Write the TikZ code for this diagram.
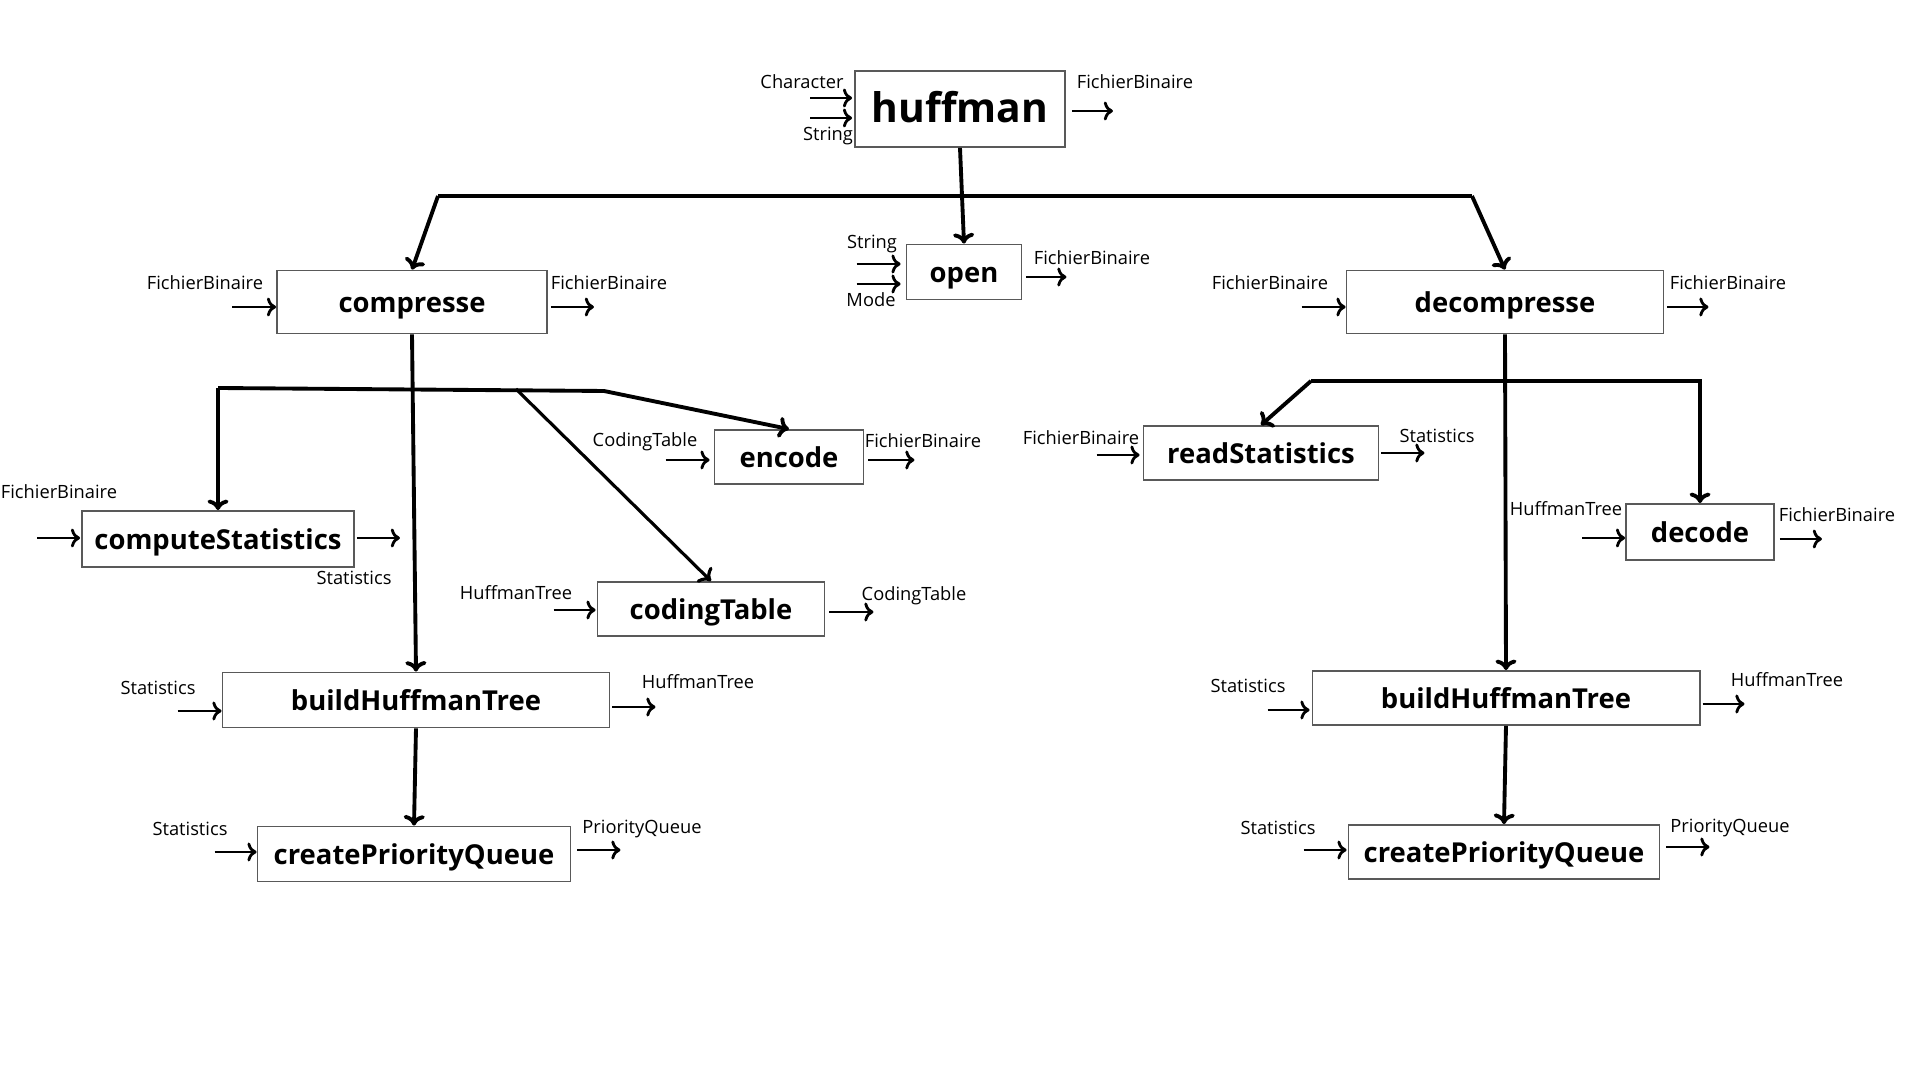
\documentclass[tikz,border=0pt]{standalone}
\usepackage{fontspec}
\setmainfont{Open Sans}
\usetikzlibrary{arrows.meta}
\tikzset{
  func/.style={draw=black!65, line width=0.5pt, inner sep=0pt, text height=0.62em, text depth=0pt, font=\fontsize{7.8}{9}\selectfont\bfseries},
  lbl/.style={inner sep=0pt, font=\fontsize{5.2}{6}\selectfont},
  flow/.style={draw, line width=1.1pt, ->, >={To[length=3pt,width=6pt]}},
  io/.style={draw, line width=0.8pt, ->, >={To[length=2.6pt,width=5.4pt]}}
}
\begin{document}
\begin{tikzpicture}[x=0.01cm,y=-0.01cm]
\useasboundingbox (0,0) rectangle (1920,1080);
\fill[white] (0,0) rectangle (1920,1080);

\node[func,minimum width=2.10cm,minimum height=0.76cm,text height=0.76em,font=\fontsize{11.6}{13}\selectfont\bfseries] (huf) at (960,109) {huffman};
\node[func,minimum width=1.15cm,minimum height=0.55cm] (open) at (964,272) {open};
\node[func,minimum width=2.70cm,minimum height=0.63cm] (comp) at (412,302) {compresse};
\node[func,minimum width=3.17cm,minimum height=0.63cm] (dec) at (1505,302) {decompresse};
\node[func,minimum width=1.49cm,minimum height=0.54cm] (enc) at (789,457) {encode};
\node[func,minimum width=2.72cm,minimum height=0.56cm] (stat) at (218,539) {computeStatistics};
\node[func,minimum width=2.27cm,minimum height=0.54cm] (ctab) at (711,609) {codingTable};
\node[func,minimum width=3.87cm,minimum height=0.55cm] (bht1) at (416,700) {buildHuffmanTree};
\node[func,minimum width=3.13cm,minimum height=0.55cm] (cpq1) at (414,854) {createPriorityQueue};
\node[func,minimum width=2.35cm,minimum height=0.54cm] (rst) at (1261,453) {readStatistics};
\node[func,minimum width=1.48cm,minimum height=0.56cm] (deco) at (1700,532) {decode};
\node[func,minimum width=3.87cm,minimum height=0.54cm] (bht2) at (1506,698) {buildHuffmanTree};
\node[func,minimum width=3.11cm,minimum height=0.54cm] (cpq2) at (1504,852) {createPriorityQueue};

% tree
\coordinate (bl) at (438,196);
\coordinate (br) at (1472,196);
\path[flow] (huf.south) -- (open.north);
\path[draw,line width=1.1pt] (bl) -- (br);
\path[flow] (bl) -- (comp.north);
\path[flow] (br) -- (dec.north);

\coordinate (cl) at (218,388);
\coordinate (cm) at (516,389);
\coordinate (cr) at (604,391);
\path[flow] (comp.south) -- (bht1.north);
\path[flow] (cl) -- (cr) -- (enc.north);
\path[flow] (cl) -- (stat.north);
\path[flow,line width=0.9pt] (cm) -- (ctab.north);
\path[flow] (bht1.south) -- (cpq1.north);

\coordinate (dl) at (1311,381);
\coordinate (dr) at (1700,381);
\path[flow] (dec.south) -- (bht2.north);
\path[flow] (dl) -- (dr) -- (deco.north);
\path[flow] (dl) -- (rst.north);
\path[flow] (bht2.south) -- (cpq2.north);

% inputs / outputs
\node[lbl] (hufi1) at (802,82) {Character};
\node[lbl] (hufi2) at (828,136) {String};
\node[lbl] (hufo) at (1135,82) {FichierBinaire};
\path[io] ([shift={(-44,-11)}]huf.west) -- ([shift={(-2,-11)}]huf.west);
\path[io] ([shift={(-44,9)}]huf.west) -- ([shift={(-2,9)}]huf.west);
\path[io] ([shift={(6,2)}]huf.east) -- ([shift={(47,2)}]huf.east);

\node[lbl] (openi1) at (872,244) {String};
\node[lbl] (openi2) at (871,300) {Mode};
\node[lbl] (openo) at (1092,258) {FichierBinaire};
\path[io] ([shift={(-49,-8)}]open.west) -- ([shift={(-5,-8)}]open.west);
\path[io] ([shift={(-49,12)}]open.west) -- ([shift={(-5,12)}]open.west);
\path[io] ([shift={(4,5)}]open.east) -- ([shift={(44,5)}]open.east);

\node[lbl] (compi) at (205,283) {FichierBinaire};
\node[lbl] (compo) at (609,283) {FichierBinaire};
\path[io] ([shift={(-44,5)}]comp.west) -- ([shift={(0,5)}]comp.west);
\path[io] ([shift={(3,5)}]comp.east) -- ([shift={(46,5)}]comp.east);

\node[lbl] (deci) at (1270,283) {FichierBinaire};
\node[lbl] (deco2) at (1728,283) {FichierBinaire};
\path[io] ([shift={(-44,5)}]dec.west) -- ([shift={(0,5)}]dec.west);
\path[io] ([shift={(3,5)}]dec.east) -- ([shift={(44,5)}]dec.east);

\node[lbl] (enci) at (645,442) {CodingTable};
\node[lbl] (enco) at (923,441) {FichierBinaire};
\path[io] ([shift={(-48,3)}]enc.west) -- ([shift={(-4,3)}]enc.west);
\path[io] ([shift={(4,3)}]enc.east) -- ([shift={(50,3)}]enc.east);

\node[lbl] (stati) at (59,492) {FichierBinaire};
\node[lbl] (stato) at (354,578) {Statistics};
\path[io] ([shift={(-44,-1)}]stat.west) -- ([shift={(-1,-1)}]stat.west);
\path[io] ([shift={(2,-1)}]stat.east) -- ([shift={(45,-1)}]stat.east);

\node[lbl] (ctabi) at (516,593) {HuffmanTree};
\node[lbl] (ctabo) at (914,596) {CodingTable};
\path[io] ([shift={(-43,1)}]ctab.west) -- ([shift={(-1,1)}]ctab.west);
\path[io] ([shift={(4,3)}]ctab.east) -- ([shift={(48,3)}]ctab.east);

\node[lbl] (bht1i) at (158,688) {Statistics};
\node[lbl] (bht1o) at (698,682) {HuffmanTree};
\path[io] ([shift={(-44,11)}]bht1.west) -- ([shift={(0,11)}]bht1.west);
\path[io] ([shift={(2,7)}]bht1.east) -- ([shift={(45,7)}]bht1.east);

\node[lbl] (cpq1i) at (190,829) {Statistics};
\node[lbl] (cpq1o) at (642,829) {PriorityQueue};
\path[io] ([shift={(-42,-2)}]cpq1.west) -- ([shift={(0,-2)}]cpq1.west);
\path[io] ([shift={(6,-4)}]cpq1.east) -- ([shift={(49,-4)}]cpq1.east);

\node[lbl] (rsti) at (1081,438) {FichierBinaire};
\node[lbl] (rsto) at (1437,436) {Statistics};
\path[io] ([shift={(-46,2)}]rst.west) -- ([shift={(-3,2)}]rst.west);
\path[io] ([shift={(2,0)}]rst.east) -- ([shift={(45,0)}]rst.east);

\node[lbl] (decoi) at (1566,509) {HuffmanTree};
\node[lbl] (decoo) at (1837,515) {FichierBinaire};
\path[io] ([shift={(-43,6)}]deco.west) -- ([shift={(0,6)}]deco.west);
\path[io] ([shift={(5,7)}]deco.east) -- ([shift={(47,7)}]deco.east);

\node[lbl] (bht2i) at (1248,686) {Statistics};
\node[lbl] (bht2o) at (1787,680) {HuffmanTree};
\path[io] ([shift={(-44,12)}]bht2.west) -- ([shift={(-2,12)}]bht2.west);
\path[io] ([shift={(2,6)}]bht2.east) -- ([shift={(44,6)}]bht2.east);

\node[lbl] (cpq2i) at (1278,828) {Statistics};
\node[lbl] (cpq2o) at (1730,828) {PriorityQueue};
\path[io] ([shift={(-44,-2)}]cpq2.west) -- ([shift={(-1,-2)}]cpq2.west);
\path[io] ([shift={(6,-5)}]cpq2.east) -- ([shift={(49,-5)}]cpq2.east);
\end{tikzpicture}
\end{document}
